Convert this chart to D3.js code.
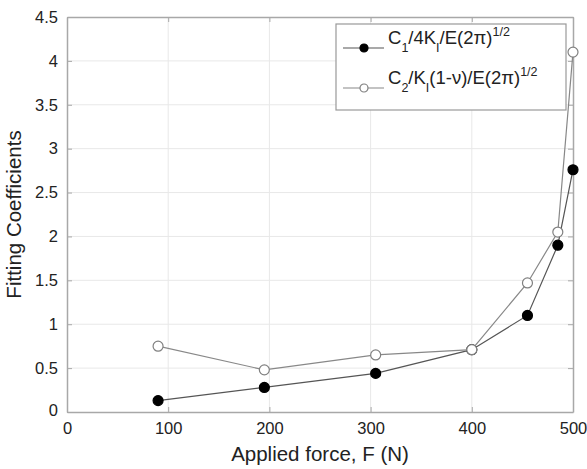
<!DOCTYPE html>
<html>
<head>
<meta charset="utf-8">
<script src="https://cdn.jsdelivr.net/npm/d3@7"></script>
<style>
  body { margin: 0; background: #fff; }
  svg { font-family: "Liberation Sans", Arial, sans-serif; }
</style>
</head>
<body>
<div id="chart"></div>
<script>
const forces = [90, 195, 305, 400, 455, 485, 500];
const coefC1 = [0.13, 0.28, 0.44, 0.71, 1.10, 1.90, 2.76];
const coefC2 = [0.75, 0.48, 0.65, 0.71, 1.47, 2.05, 4.10];
const xTicks = [0, 100, 200, 300, 400, 500];
const yTicks = [0, 0.5, 1, 1.5, 2, 2.5, 3, 3.5, 4, 4.5];

const margin = { left: 67, right: 14, top: 17, bottom: 57 };
const width = 587 - margin.left - margin.right;
const height = 469 - margin.top - margin.bottom;

const svg = d3.select('#chart').append('svg')
  .attr('width', 587)
  .attr('height', 469);

const g = svg.append('g')
  .attr('transform', `translate(${margin.left}, ${margin.top})`);

const x = d3.scaleLinear().domain([0, 500]).range([0, width]);
const y = d3.scaleLinear().domain([0, 4.5]).range([height, 0]);

// grid
g.append('g').selectAll('line.gx')
  .data(xTicks.slice(1, -1))
  .enter().append('line')
    .attr('x1', d => x(d)).attr('x2', d => x(d))
    .attr('y1', 0).attr('y2', height)
    .attr('stroke', '#e8e8e8').attr('stroke-width', 1);

g.append('g').selectAll('line.gy')
  .data(yTicks.slice(1, -1))
  .enter().append('line')
    .attr('x1', 0).attr('x2', width)
    .attr('y1', d => y(d)).attr('y2', d => y(d))
    .attr('stroke', '#e8e8e8').attr('stroke-width', 1);

// axes with inward ticks on all sides
const axisColor = '#a8a8a8';
const styleAxis = sel => {
  sel.select('.domain').attr('stroke', axisColor).attr('stroke-width', 1.5);
  sel.selectAll('.tick line').attr('stroke', axisColor);
  sel.selectAll('.tick text').attr('fill', '#222').attr('font-size', 16.5)
    .attr('font-family', '"Liberation Sans", Arial, sans-serif');
};

g.append('g')
  .attr('transform', `translate(0, ${height})`)
  .call(d3.axisBottom(x).tickValues(xTicks).tickSizeInner(-5).tickSizeOuter(0).tickPadding(9))
  .call(styleAxis)
  .call(a => a.selectAll('.tick text').attr('dy', '0.8em'));

g.append('g')
  .call(d3.axisLeft(y).tickValues(yTicks).tickFormat(d => d).tickSizeInner(-5).tickSizeOuter(0).tickPadding(9))
  .call(styleAxis)
  .call(a => a.selectAll('.tick text').filter(d => d === 0).attr('dy', '0.2em'));

g.append('g')
  .call(d3.axisTop(x).tickValues(xTicks).tickSizeInner(-5).tickSizeOuter(0).tickFormat(''))
  .call(styleAxis);

g.append('g')
  .attr('transform', `translate(${width}, 0)`)
  .call(d3.axisRight(y).tickValues(yTicks).tickSizeInner(-5).tickSizeOuter(0).tickFormat(''))
  .call(styleAxis);

// labels
g.append('text')
  .attr('x', width / 2)
  .attr('y', height + 49)
  .attr('font-size', 20.5)
  .attr('text-anchor', 'middle')
  .attr('fill', '#222')
  .text('Applied force, F (N)');

g.append('text')
  .attr('x', -height / 2)
  .attr('y', -46)
  .attr('transform', 'rotate(-90)')
  .attr('font-size', 20.5)
  .attr('text-anchor', 'middle')
  .attr('fill', '#222')
  .text('Fitting Coefficients');

// series
const series = [
  { values: coefC1, fill: '#000', stroke: '#000', line: '#555' },
  { values: coefC2, fill: '#fff', stroke: '#808080', line: '#888' }
];

const line = d3.line().x(d => x(d[0])).y(d => y(d[1]));

series.forEach(s => {
  const pts = forces.map((f, i) => [f, s.values[i]]);
  g.append('path')
    .datum(pts)
    .attr('d', line)
    .attr('fill', 'none')
    .attr('stroke', s.line)
    .attr('stroke-width', 1.2);
  g.selectAll(null)
    .data(pts)
    .enter().append('circle')
      .attr('cx', d => x(d[0]))
      .attr('cy', d => y(d[1]))
      .attr('r', 5)
      .attr('fill', s.fill)
      .attr('stroke', s.stroke)
      .attr('stroke-width', 1.2);
});

// legend
const legend = svg.append('g').attr('transform', 'translate(336, 24)');
legend.append('rect')
  .attr('width', 230).attr('height', 86)
  .attr('fill', '#fff').attr('stroke', '#999').attr('stroke-width', 1.2);

const legendRows = [
  [['C', 0], ['1', -1], ['/4K', 0], ['I', -1], ['/E(2π)', 0], ['1/2', 1]],
  [['C', 0], ['2', -1], ['/K', 0], ['I', -1], ['(1-ν)/E(2π)', 0], ['1/2', 1]]
];

legendRows.forEach((parts, i) => {
  const ry = 24 + i * 40;
  const row = legend.append('g').attr('transform', `translate(0, ${ry})`);
  row.append('line')
    .attr('x1', 7).attr('x2', 48).attr('y1', 0).attr('y2', 0)
    .attr('stroke', series[i].line).attr('stroke-width', 1.2);
  row.append('circle')
    .attr('cx', 28).attr('cy', 0).attr('r', 4)
    .attr('fill', series[i].fill).attr('stroke', series[i].stroke).attr('stroke-width', 1.2);
  const t = row.append('text')
    .attr('x', 52).attr('y', -4)
    .attr('font-size', 18.5)
    .attr('fill', '#222');
  let prev = 0;
  parts.forEach(([txt, pos]) => {
    const shift = pos === -1 ? 8 : pos === 1 ? -8 : 0;
    t.append('tspan')
      .attr('dy', shift - prev)
      .attr('font-size', pos === 0 ? 18.5 : 12.5)
      .text(txt);
    prev = shift;
  });
});
</script>
</body>
</html>
